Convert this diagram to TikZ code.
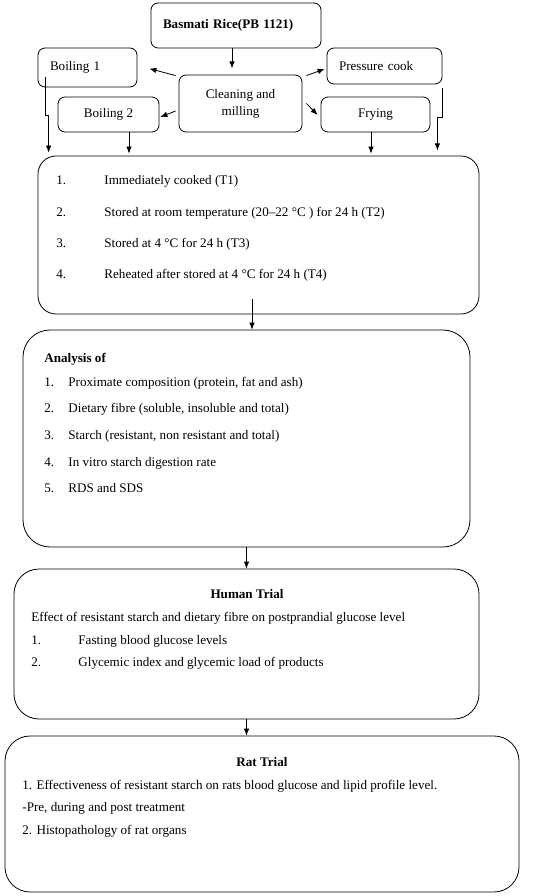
\documentclass[tikz,border=0pt]{standalone}
\usepackage{fontspec}
\setmainfont{Liberation Serif}
\usetikzlibrary{calc,arrows.meta}
\tikzset{
  box/.style={draw, rounded corners=7pt, inner ysep=0pt, inner xsep=12pt},
  bigbox/.style={draw, rounded corners=#1, inner sep=0pt},
  bigbox/.default=20pt,
  txt/.style={anchor=base west, inner sep=0pt},
  ttl/.style={anchor=base, inner sep=0pt, font=\fontsize{13.1}{16}\selectfont\bfseries},
  arr/.style={-{Latex[length=7pt,width=5.5pt]}}
}
\begin{document}
\begin{tikzpicture}[x=1pt, y=-1pt, font=\fontsize{13.1}{16}\selectfont, line width=0.8pt]
        \useasboundingbox (0,0) rectangle (550,896);
        \node[box, text width=146pt, align=left, minimum height=45pt, font=\fontsize{13.1}{16}\selectfont\bfseries] (rice) at (236,25.5) {Basmati Rice(PB 1121)};
        \node[box, text width=75pt, align=left, minimum height=39pt] (boil1) at (87.5,67.5) {Boiling 1};
        \node[box, text width=91pt, align=left, minimum height=36pt] (press) at (384.5,66) {Pressure cook};
        \node[box, inner xsep=0pt, minimum width=123pt, minimum height=57pt, align=center, font=\fontsize{13.1}{17}\selectfont] (clean) at (240.5,103.5) {Cleaning and\\milling};
        \node[box, inner xsep=0pt, minimum width=101pt, minimum height=35pt] (boil2) at (108.5,114.5) {Boiling 2};
        \node[box, inner xsep=0pt, minimum width=109pt, minimum height=35pt] (fry) at (375.5,114.5) {Frying};
        \node[bigbox=18pt, minimum width=441pt, minimum height=158pt] (treat) at (258.5,235) {};
        \node[bigbox=27pt, minimum width=447pt, minimum height=217pt] (anal) at (246.5,438.5) {};
        \node[bigbox=25pt, minimum width=465pt, minimum height=150pt] (human) at (246.5,644) {};
        \node[bigbox=25pt, minimum width=514pt, minimum height=156pt] (rat) at (262,814) {};
        \draw[arr] ([xshift=-4]rice.south) -- ++(0,20);
        \draw[arr] ([shift={(-3,1)}]clean.north west) -- ([shift={(12,21)}]boil1.north east);
        \draw[arr] ([shift={(-3,7.5)}]clean.west) -- ([shift={(1,2.5)}]boil2.east);
        \draw[arr] ([shift={(4,1)}]clean.north east) -- ([shift={(-2,3)}]press.west);
        \draw[arr] ([shift={(4,0)}]clean.east) -- ([shift={(-3,0.5)}]fry.west);
        \draw[arr] ([shift={(8,-10)}]boil1.south west) -- ++(0,38) -- ++(3,0) -- ([shift={(11,-3)}]treat.north west);
        \draw[arr] ([yshift=-4]press.south east) -- ++(0,29) -- ++(-5,0) -- ++(0,33);
        \draw[arr, shorten >=2pt] ([xshift=20.5]boil2.south) -- ([xshift=20.5]boil2.south |- treat.north);
        \draw[arr, shorten >=2pt] ([xshift=-4.5]fry.south) -- ([xshift=-4.5]fry.south |- treat.north);
        \draw[arr] ([shift={(-6.5,-15)}]treat.south) -- ([xshift=-6.5]treat.south |- anal.north);
        \draw[arr] (anal.south) -- (human.north);
        \draw[arr] (human.south) -- (human.south |- rat.north);
        \node[txt] (t1n) at (56,185) {1.};
        \node[txt] (t1) at (104,185) {Immediately cooked (T1)};
        \node[txt] (t2n) at (56,216) {2.};
        \node[txt] (t2) at (104,216) {Stored at room temperature (20–22 °C ) for 24 h (T2)};
        \node[txt] (t3n) at (56,247) {3.};
        \node[txt] (t3) at (104,247) {Stored at 4 °C for 24 h (T3)};
        \node[txt] (t4n) at (56,278) {4.};
        \node[txt] (t4) at (104,278) {Reheated after stored at 4 °C for 24 h (T4)};
        \node[txt, font=\fontsize{13.1}{16}\selectfont\bfseries] (a0) at (44,362) {Analysis of};
        \node[txt] (a1n) at (44,386) {1.};
        \node[txt] (a1) at (68,386) {Proximate composition (protein, fat and ash)};
        \node[txt] (a2n) at (44,412) {2.};
        \node[txt] (a2) at (68,412) {Dietary fibre (soluble, insoluble and total)};
        \node[txt] (a3n) at (44,439) {3.};
        \node[txt] (a3) at (68,439) {Starch (resistant, non resistant and total)};
        \node[txt] (a4n) at (44,466) {4.};
        \node[txt] (a4) at (68,466) {In vitro starch digestion rate};
        \node[txt] (a5n) at (44,492) {5.};
        \node[txt] (a5) at (68,492) {RDS and SDS};
        \node[ttl] (h0) at (247,598) {Human Trial};
        \node[txt] (h1) at (31,621) {Effect of resistant starch and dietary fibre on postprandial glucose level};
        \node[txt] (h2n) at (31,644) {1.};
        \node[txt] (h2) at (78,644) {Fasting blood glucose levels};
        \node[txt] (h3n) at (31,666) {2.};
        \node[txt] (h3) at (78,666) {Glycemic index and glycemic load of products};
        \node[ttl] (r0) at (262,766) {Rat Trial};
        \node[txt] (r1) at (22,789) {1. Effectiveness of resistant starch on rats blood glucose and lipid profile level.};
        \node[txt] (r2) at (22,811) {-Pre, during and post treatment};
        \node[txt] (r3) at (22,834) {2. Histopathology of rat organs};
    \end{tikzpicture}
\end{document}
